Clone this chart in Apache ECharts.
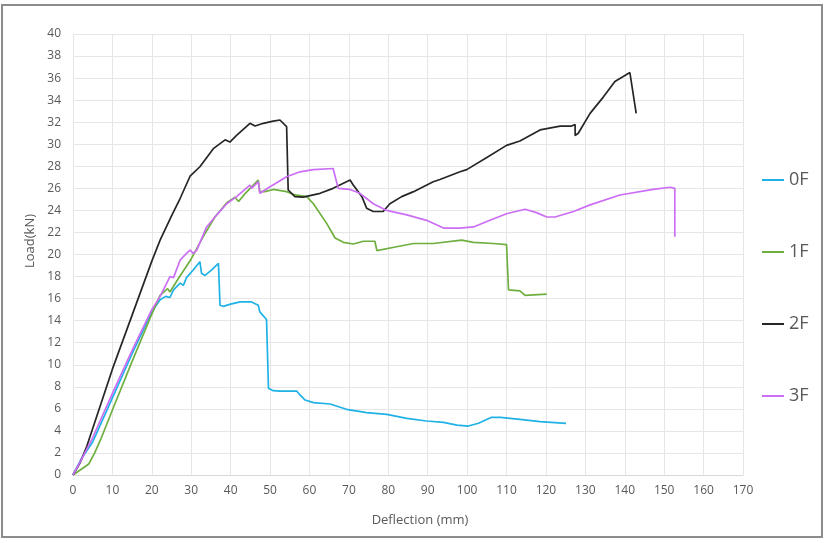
<!DOCTYPE html>
<html>
<head>
<meta charset="utf-8">
<script src="https://cdn.jsdelivr.net/npm/echarts@6/dist/echarts.min.js"></script>
<style>
html,body{margin:0;padding:0;background:#fff;}
#c{width:826px;height:543px;}
</style>
</head>
<body>
<div id="c"></div>
<script>
var seriesNames = ['0F', '1F', '2F', '3F'];
var xTicks = {min: 0, max: 170, step: 10};
var yTicks = {min: 0, max: 40, step: 2};

var f0 = [[0,0],[2,1.4],[5,3],[10,7],[15,11],[20,14.8],[22.1,15.9],[23.5,16.2],[24.6,16.1],[25.5,16.8],[27.2,17.4],[28,17.2],[28.8,17.9],[30.5,18.6],[32.2,19.35],[32.6,18.3],[33.5,18.1],[35.2,18.6],[36.9,19.2],[37.3,15.4],[38.1,15.3],[40,15.5],[42.4,15.7],[45.3,15.7],[47,15.4],[47.4,14.8],[49.1,14.1],[49.6,7.86],[50.8,7.65],[52.5,7.6],[56.8,7.6],[57.6,7.26],[58.9,6.8],[61,6.56],[65.2,6.44],[69.4,5.96],[74.5,5.65],[79.6,5.5],[84.7,5.14],[89.7,4.9],[94,4.78],[97.4,4.53],[100.3,4.44],[102.9,4.69],[106.2,5.23],[108.4,5.23],[113.4,5.05],[118.5,4.84],[125.1,4.69]];

var f1 = [[0,0],[2,0.5],[4,1],[5.5,2],[7,3.2],[10,5.9],[15,10.3],[20,14.6],[22.1,16.3],[24,16.9],[24.6,16.6],[26.7,17.8],[27.2,17.7],[30,19.6],[33,21.6],[36,23.4],[39,24.7],[41.1,25.2],[42,24.8],[43.6,25.5],[45.5,26.2],[47,26.75],[47.4,25.7],[48.7,25.7],[50.8,25.9],[54.2,25.7],[56.3,25.4],[59.3,25.25],[61,24.6],[64.4,22.8],[66.5,21.5],[68.6,21.1],[71.1,20.95],[73.7,21.2],[76.6,21.2],[77.1,20.35],[82.1,20.7],[86.4,21.0],[91.4,21.0],[98.6,21.3],[101.6,21.1],[106.6,21.0],[110,20.9],[110.5,16.8],[113.4,16.7],[114.7,16.3],[120.2,16.4]];

var f2 = [[0,0],[1.8,1.1],[3.5,2.6],[10,9.6],[15,14.5],[20,19.4],[22.1,21.3],[25,23.5],[27.2,25.1],[29.7,27.1],[32.2,27.96],[35.6,29.6],[38.6,30.4],[39.8,30.2],[41.5,30.8],[44.9,31.9],[46.2,31.65],[48.3,31.9],[50.8,32.1],[52.5,32.2],[54.2,31.6],[54.6,25.85],[56.3,25.25],[58.4,25.2],[62.7,25.55],[66,26.0],[70.3,26.76],[71.1,26.3],[73.3,25.25],[74.5,24.2],[76.2,23.9],[78.7,23.9],[80.4,24.6],[83.4,25.25],[86.4,25.7],[91.4,26.6],[93.1,26.8],[98.2,27.5],[99.9,27.7],[105,28.8],[110,29.9],[113.4,30.3],[118.5,31.3],[123.6,31.65],[126.5,31.65],[127.4,31.8],[127.4,30.8],[128.2,31.0],[131.2,32.8],[134.6,34.3],[137.5,35.7],[141.3,36.5],[142.9,32.8]];

var f3 = [[0,0],[2,1.3],[5,3.4],[10,7.4],[15,11.3],[20,15],[22.1,16.2],[24.6,18.0],[25.5,17.9],[27.2,19.5],[28.8,20.1],[29.7,20.4],[30.5,20.1],[31.4,20.4],[33.9,22.5],[36.5,23.6],[39,24.6],[41.5,25.25],[44.9,26.3],[45.3,26.0],[47,26.6],[47.4,25.55],[50,26.15],[54.2,27.05],[57.6,27.5],[61,27.7],[66,27.8],[67.3,26.0],[70.3,25.9],[72.8,25.55],[76.2,24.6],[79.6,24.0],[84.7,23.6],[89.7,23.1],[94,22.4],[98.2,22.4],[101.6,22.5],[105.8,23.1],[110,23.7],[114.7,24.1],[117.6,23.8],[120.2,23.4],[122.3,23.4],[127,23.9],[131.2,24.5],[138.8,25.4],[147.2,25.9],[151.5,26.1],[152.7,26.0],[152.7,21.6]];

var seriesData = [f0, f1, f2, f3];
var colors = ['#1fb2e6', '#6faf3f', '#262626', '#cc6ef5'];
var FONT = 'Open Sans';

var chart = echarts.init(document.getElementById('c'), null, {renderer: 'canvas'});
chart.setOption({
  animation: false,
  backgroundColor: '#ffffff',
  grid: {left: 73, right: 83, top: 34, bottom: 68, containLabel: false},
  xAxis: {
    type: 'value', min: xTicks.min, max: xTicks.max, interval: xTicks.step,
    axisLine: {show: true, lineStyle: {color: '#d9d9d9', width: 1}},
    axisTick: {show: false},
    axisLabel: {color: '#595959', fontSize: 12, fontFamily: FONT, margin: 10},
    splitLine: {show: true, lineStyle: {color: '#e6e6e6', width: 1}}
  },
  yAxis: {
    type: 'value', min: yTicks.min, max: yTicks.max, interval: yTicks.step,
    axisLine: {show: true, lineStyle: {color: '#e6e6e6', width: 1}},
    axisTick: {show: false},
    axisLabel: {color: '#595959', fontSize: 12, fontFamily: FONT, margin: 12},
    splitLine: {show: true, lineStyle: {color: '#e6e6e6', width: 1}}
  },
  legend: {
    orient: 'vertical', left: 757, top: 165, itemGap: 52,
    itemWidth: 22, itemHeight: 2, icon: 'rect',
    textStyle: {color: '#595959', fontSize: 18, fontFamily: FONT, lineHeight: 20},
    data: seriesNames
  },
  graphic: [
    {type: 'rect', shape: {x: 2, y: 5, width: 820, height: 532}, style: {fill: 'none', stroke: '#8c8c8c', lineWidth: 2}, silent: true, z: 100},
    {type: 'text', x: 420, y: 520, style: {text: 'Deflection (mm)', fill: '#595959', font: '13px "' + FONT + '"', align: 'center', verticalAlign: 'middle'}},
    {type: 'text', x: 30, y: 241, rotation: Math.PI / 2, style: {text: 'Load(kN)', fill: '#595959', font: '13px "' + FONT + '"', align: 'center', verticalAlign: 'middle'}}
  ],
  series: seriesNames.map(function (n, i) {
    return {
      name: n, type: 'line', data: seriesData[i], showSymbol: false, symbol: 'none',
      lineStyle: {color: colors[i], width: 1.7}, itemStyle: {color: colors[i]}
    };
  })
});
</script>
</body>
</html>
